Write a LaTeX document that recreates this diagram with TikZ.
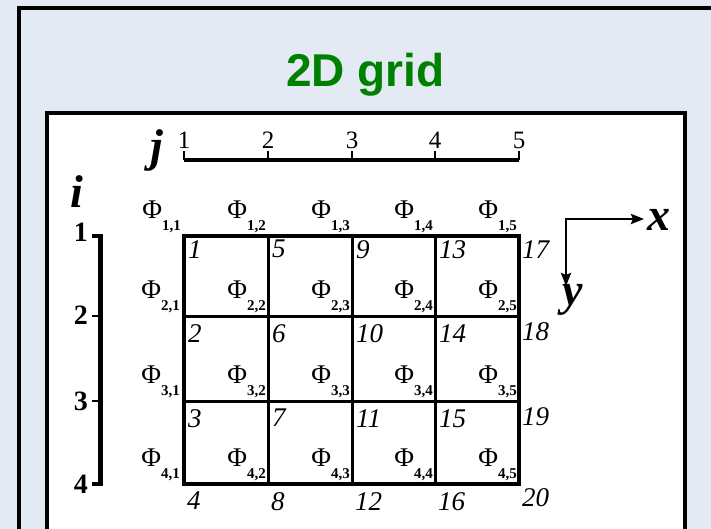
\documentclass[tikz,border=0pt]{standalone}
\usepackage{fontspec}
\setmainfont{Liberation Serif}
\newfontfamily\headfont{Liberation Sans}
\usetikzlibrary{arrows.meta}
\definecolor{panelbg}{HTML}{E3EAF4}
\definecolor{headgreen}{HTML}{008000}
\newcommand{\fij}[2]{Φ\raisebox{-12pt}{\fontsize{15}{15}\selectfont\bfseries #1,#2}}
\tikzset{
  panelframe/.style={draw=black, line width=4pt, fill=panelbg},
  whiteframe/.style={draw=black, line width=4pt, fill=white},
  gridline/.style={line width=3pt, line cap=rect},
  gridframe/.style={line width=3.2pt, line join=miter},
  axisline/.style={line width=3.4pt},
  tickline/.style={line width=2.4pt},
  xyarr/.style={{Stealth[length=13pt,width=10pt,inset=2pt]}-{Stealth[length=13pt,width=10pt,inset=2pt]},
                line width=2.8pt, line join=miter}}

\begin{document}
\begin{tikzpicture}[x=1pt, y=-1pt,
     num/.style={anchor=north west, inner sep=0pt, font=\fontsize{27}{27}\selectfont\itshape},
     phi/.style={anchor=south east, inner sep=0pt, font=\fontsize{27}{27}\selectfont},
     tick/.style={inner sep=0pt, font=\fontsize{25}{25}\selectfont},
     itick/.style={anchor=east, inner sep=0pt, font=\fontsize{28}{28}\selectfont\bfseries},
     letter/.style={inner sep=0pt, font=\fontsize{46}{46}\selectfont\bfseries\itshape}]
    \useasboundingbox (0,0) rectangle (711,529);
    \clip (0,0) rectangle (711,529);
    \fill[panelbg] (0,0) rectangle (711,529);
    \draw[panelframe] (19,8) rectangle (760,580);
    \node[anchor=base, inner sep=0pt, text=headgreen,
          font=\headfont\bfseries\fontsize{46}{46}\selectfont] (title) at (365.5,87) {2D grid};
    \draw[whiteframe] (47,113) rectangle (685,580);
    % grid points (row i, column j)
    \coordinate (g11) at (184,236); \coordinate (g12) at (268,236); \coordinate (g13) at (352,236);
    \coordinate (g14) at (435,236); \coordinate (g15) at (519,236);
    \coordinate (g21) at (184,316); \coordinate (g25) at (519,316);
    \coordinate (g31) at (184,401); \coordinate (g35) at (519,401);
    \coordinate (g41) at (184,484); \coordinate (g42) at (268,484); \coordinate (g43) at (352,484);
    \coordinate (g44) at (435,484); \coordinate (g45) at (519,484);
    \draw[gridline] (g21) -- (g25);
    \draw[gridline] (g31) -- (g35);
    \draw[gridline] (g12) -- (g42);
    \draw[gridline] (g13) -- (g43);
    \draw[gridline] (g14) -- (g44);
    \draw[gridframe] (g11) rectangle (g45);
    % j axis
    \coordinate (ja) at (184,160); \coordinate (jb) at (519,160);
    \draw[axisline] (ja) -- (jb);
    \draw[tickline] (184,151) -- (184,160);
    \draw[tickline] (268,151) -- (268,160);
    \draw[tickline] (352,151) -- (352,160);
    \draw[tickline] (435,151) -- (435,160);
    \draw[tickline] (519,151) -- (519,160);
    \node[tick, anchor=south] (j1) at (184,149) {1};
    \node[tick, anchor=south] (j2) at (268,149) {2};
    \node[tick, anchor=south] (j3) at (352,149) {3};
    \node[tick, anchor=south] (j4) at (435,149) {4};
    \node[tick, anchor=south] (j5) at (519,149) {5};
    \node[letter] (jl) at (157,150) {j};
    % i axis
    \draw[line width=4.4pt] (92,236) -- (100.5,236) -- (100.5,484) -- (92,484);
    \draw[tickline] (92,316) -- (100,316);
    \draw[tickline] (92,401) -- (100,401);
    \node[itick] (i1) at (88,232) {1};
    \node[itick] (i2) at (88,315) {2};
    \node[itick] (i3) at (88,401) {3};
    \node[itick] (i4) at (88,484) {4};
    \node[letter] (il) at (77,192) {i};
    % x-y axes
    \coordinate (xtip) at (644,219); \coordinate (corner) at (566,219); \coordinate (ytip) at (566,286);
    \draw[xyarr] (xtip) -- (corner) -- (ytip);
    \node[letter] (xl) at (659,220) {x};
    \node[letter] (yl) at (573,300) {y};
    % node numbers
    \node[num] (n1) at (188,240) {1};
    \node[num] (n2) at (188,324) {2};
    \node[num] (n3) at (188,409) {3};
    \node[num] (n4) at (187,492) {4};
    \node[num] (n5) at (272,240) {5};
    \node[num] (n6) at (272,324) {6};
    \node[num] (n7) at (272,409) {7};
    \node[num] (n8) at (271,492) {8};
    \node[num] (n9) at (356,240) {9};
    \node[num] (n10) at (356,324) {10};
    \node[num] (n11) at (356,409) {11};
    \node[num] (n12) at (355,492) {12};
    \node[num] (n13) at (439,240) {13};
    \node[num] (n14) at (439,324) {14};
    \node[num] (n15) at (439,409) {15};
    \node[num] (n16) at (438,492) {16};
    \node[num] (n17) at (522,240) {17};
    \node[num] (n18) at (522,322) {18};
    \node[num] (n19) at (522,407) {19};
    \node[num] (n20) at (522,488) {20};
    % potentials
    \node[phi] (p11) at (181,233) {\fij{1}{1}};
    \node[phi] (p12) at (266,233) {\fij{1}{2}};
    \node[phi] (p13) at (350,233) {\fij{1}{3}};
    \node[phi] (p14) at (433,233) {\fij{1}{4}};
    \node[phi] (p15) at (517,233) {\fij{1}{5}};
    \node[phi] (p21) at (180,313) {\fij{2}{1}};
    \node[phi] (p22) at (266,313) {\fij{2}{2}};
    \node[phi] (p23) at (350,313) {\fij{2}{3}};
    \node[phi] (p24) at (433,313) {\fij{2}{4}};
    \node[phi] (p25) at (517,313) {\fij{2}{5}};
    \node[phi] (p31) at (180,398) {\fij{3}{1}};
    \node[phi] (p32) at (266,398) {\fij{3}{2}};
    \node[phi] (p33) at (350,398) {\fij{3}{3}};
    \node[phi] (p34) at (433,398) {\fij{3}{4}};
    \node[phi] (p35) at (517,398) {\fij{3}{5}};
    \node[phi] (p41) at (180,481) {\fij{4}{1}};
    \node[phi] (p42) at (266,481) {\fij{4}{2}};
    \node[phi] (p43) at (350,481) {\fij{4}{3}};
    \node[phi] (p44) at (433,481) {\fij{4}{4}};
    \node[phi] (p45) at (517,481) {\fij{4}{5}};
  \end{tikzpicture}
\end{document}
